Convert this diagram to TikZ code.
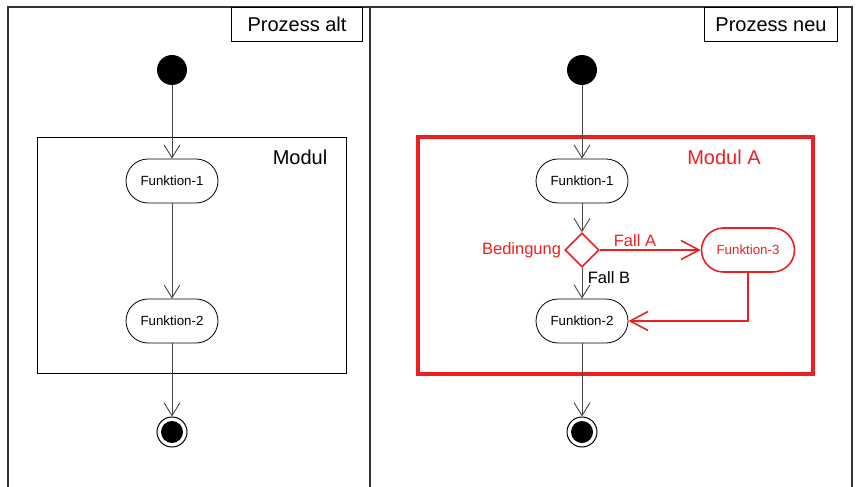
\documentclass[tikz,border=0pt]{standalone}
\usepackage{fontspec}
\setmainfont{Liberation Sans}
\usetikzlibrary{arrows.meta, positioning, shapes.geometric}
\definecolor{umlred}{RGB}{240,30,32}
\definecolor{umlgrey}{RGB}{70,70,70}

\begin{document}
\begin{tikzpicture}[x=1pt, y=-1pt,
  fn/.style={draw, line width=0.8pt, rounded corners=22pt, minimum width=92pt,
             minimum height=44pt, inner sep=0pt, font=\fontsize{13.3}{16}\selectfont},
  initnode/.style={circle, fill=black, minimum size=30pt, inner sep=0pt},
  finalnode/.style={circle, draw, line width=1pt, minimum size=30pt, inner sep=0pt,
             path picture={\fill (path picture bounding box.center) circle (11pt);}},
  decision/.style={diamond, draw=umlred, line width=1.6pt, minimum width=34pt,
             minimum height=34pt, inner sep=0pt},
  lanehead/.style={draw, line width=1pt, minimum width=131pt, minimum height=34pt,
             inner sep=0pt, anchor=north east, font=\fontsize{20}{24}\selectfont},
  frame/.style={line width=1.3pt, draw=black!80},
  lbl/.style={inner sep=0pt, font=\fontsize{16.5}{20}\selectfont},
  arr/.style={-{Straight Barb[length=13pt, width=16pt]}, umlgrey, line width=0.9pt},
  rarr/.style={-{Straight Barb[length=18pt, width=19pt]}, umlred, line width=1.6pt}]
\useasboundingbox (0,0) rectangle (857,487);

% swimlanes
\draw[frame] (8,487) -- (8,7) -- (852,7) -- (852,487);
\draw[frame] (370,7) -- (370,487);
\node[lanehead] (ha) at (363,7) {Prozess alt};
\node[lanehead, minimum width=133pt] (hn) at (838,7) {Prozess neu};

% old process
\draw[line width=1pt] (37,137) rectangle (346,373);
\node[font=\fontsize{20}{24}\selectfont] (ma) at (300,157) {Modul};
\node[initnode] (s1) at (172,70) {};
\node[fn] (f1a) at (172,181) {Funktion-1};
\node[fn] (f2a) at (172,321) {Funktion-2};
\node[finalnode] (e1) at (172,432) {};
\draw[arr] (s1) -- (f1a);
\draw[arr] (f1a) -- (f2a);
\draw[arr] (f2a) -- (e1);

% new process
\draw[umlred, line width=3.2pt] (418,137) rectangle (813,374);
\node[umlred, font=\fontsize{20}{24}\selectfont] (mb) at (724,157) {Modul A};
\node[initnode] (s2) at (582,70) {};
\node[fn] (f1b) at (582,181) {Funktion-1};
\node[decision] (dec) at (582,250) {};
\node[lbl, umlred, left=3pt of dec] (cond) {Bedingung};
\node[fn, draw=umlred, text=umlred, line width=1.6pt, minimum width=93pt] (f3) at (748,250) {Funktion-3};
\node[fn] (f2b) at (582,321) {Funktion-2};
\node[finalnode] (e2) at (582,432) {};
\node[lbl, umlred] (fa) at (635,241) {Fall A};
\node[lbl] (fb) at (609,278) {Fall B};
\draw[arr] (s2) -- (f1b);
\draw[arr] (f1b) -- (dec);
\draw[rarr] (dec) -- (f3);
\draw[arr] (dec) -- (f2b);
\draw[rarr] (f3) |- (f2b);
\draw[arr] (f2b) -- (e2);
\end{tikzpicture}
\end{document}
